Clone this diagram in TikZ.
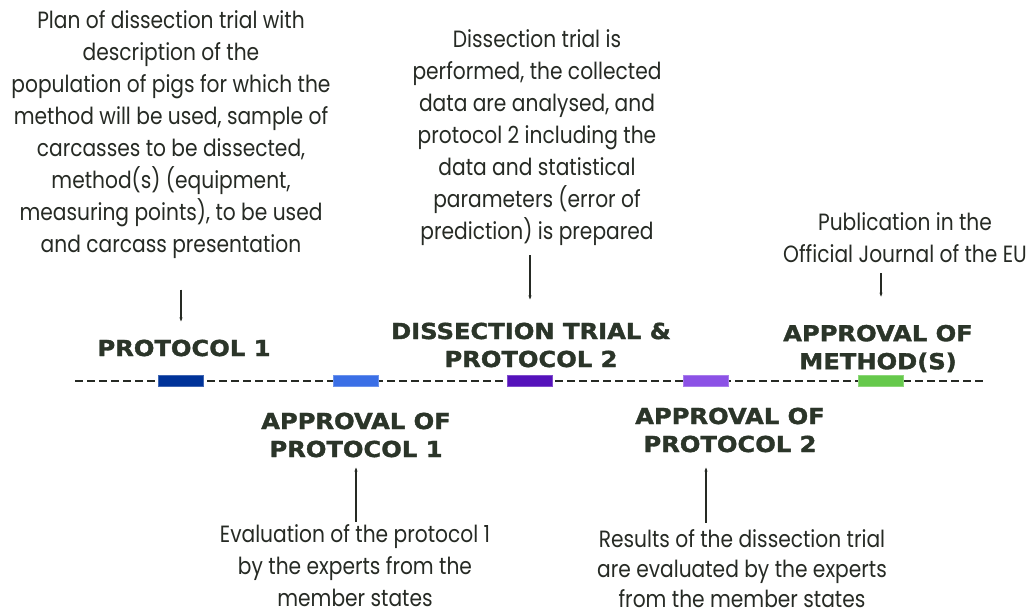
\documentclass[tikz,border=0pt]{standalone}
\usepackage{fontspec}
\setmainfont{Poppins}[FakeStretch=0.86]
\newfontfamily\headfont{DejaVu Sans}[FakeStretch=1.1, BoldFeatures={FakeBold=1.6}]
\usetikzlibrary{arrows.meta}
\definecolor{ink}{HTML}{262A24}
\definecolor{headink}{HTML}{2B3529}
\definecolor{stepA}{HTML}{003399}
\definecolor{stepB}{HTML}{3B6FE6}
\definecolor{stepC}{HTML}{5512BB}
\definecolor{stepD}{HTML}{8C52E6}
\definecolor{stepE}{HTML}{66C94C}
\tikzset{
  note/.style={align=center, text=ink, inner sep=0pt, font=\fontsize{23.5}{32}\selectfont},
  head/.style={align=center, text=headink, inner sep=0pt, font=\headfont\bfseries\fontsize{22}{28}\selectfont},
  tick/.style={draw=#1!75!white, fill=#1, line width=0.8pt, minimum width=45pt, minimum height=11pt, inner sep=0pt},
  arr/.style={-{Stealth[length=4pt,width=3pt]}, line width=1.1pt, draw=ink},
  timeline/.style={draw=ink, line width=1.6pt, dash pattern=on 8pt off 4pt}
}
\begin{document}
\begin{tikzpicture}[x=1pt, y=-1pt]
\useasboundingbox[fill=white] (0,0) rectangle (1033,615);

% The time line and its five steps
\coordinate (tlstart) at (75,381);
\coordinate (tlend) at (985,381);
\draw[timeline] (tlstart) -- (tlend);
\node[tick=stepA] (m1) at (181,381) {};
\node[tick=stepB] (m2) at (356,381) {};
\node[tick=stepC] (m3) at (530,381) {};
\node[tick=stepD] (m4) at (706,381) {};
\node[tick=stepE] (m5) at (881,381) {};

% Headings above and below the line
\node[head] (p1) at (184,348) {PROTOCOL 1};
\node[head] (dt) at (531,345) {DISSECTION TRIAL \&\\PROTOCOL 2};
\node[head] (am) at (878,348.5) {APPROVAL OF\\METHOD(S)};
\node[head] (ap1) at (356,435) {APPROVAL OF\\PROTOCOL 1};
\node[head] (ap2) at (730,430) {APPROVAL OF\\PROTOCOL 2};

% Descriptions
\node[note] (plan) at (171,134.5) {Plan of dissection trial with\\description of the\\population of pigs for which the\\method will be used, sample of\\carcasses to be dissected,\\method(s) (equipment,\\measuring points), to be used\\and carcass presentation};
\node[note] (trial) at (537,138) {Dissection trial is\\performed, the collected\\data are analysed, and\\protocol 2 including the\\data and statistical\\parameters (error of\\prediction) is prepared};
\node[note] (pub) at (905,238) {Publication in the\\Official Journal of the EU};
\node[note] (eval) at (355,566) {Evaluation of the protocol 1\\by the experts from the\\member states};
\node[note, font=\fontsize{23.5}{30}\selectfont] (res) at (742,569) {Results of the dissection trial\\are evaluated by the experts\\from the member states};

% Arrows
\draw[arr, shorten <=31pt, shorten >=18pt] (plan.south -| m1) -- (p1.north -| m1);
\draw[arr, shorten <=9pt, shorten >=23pt] (trial.south -| m3) -- (dt.north -| m3);
\draw[arr, shorten <=10pt, shorten >=28pt] (pub.south -| m5) -- (am.north -| m5);
\draw[arr, shorten <=3pt, shorten >=10pt] (eval.north -| m2) -- (ap1.south -| m2);
\draw[arr, shorten <=7pt, shorten >=15pt] (res.north -| m4) -- (ap2.south -| m4);
\end{tikzpicture}
\end{document}
